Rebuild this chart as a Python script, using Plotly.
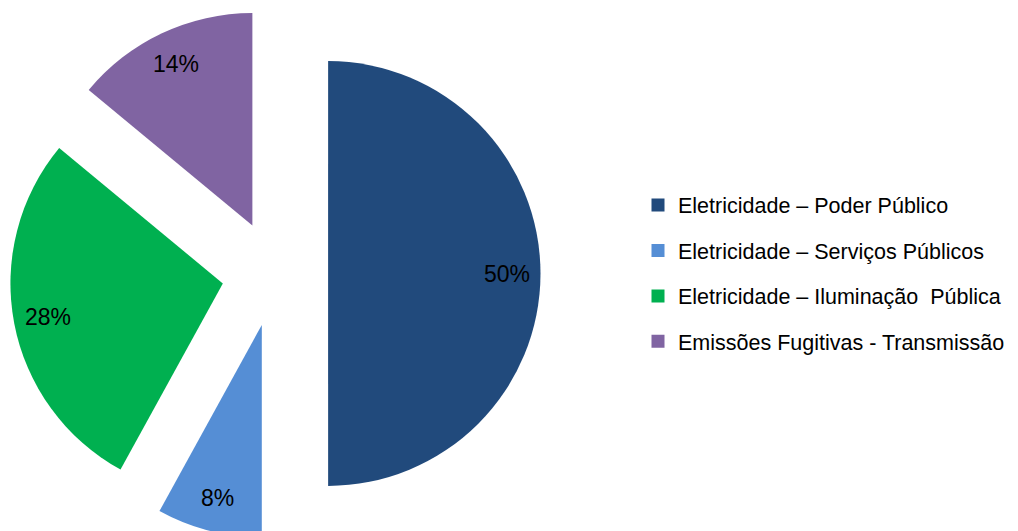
import math
import plotly.graph_objects as go

labels = ["Eletricidade – Poder Público", "Eletricidade – Serviços Públicos",
          "Eletricidade – Iluminação  Pública", "Emissões Fugitivas - Transmissão"]
values = [50, 8, 28, 14]
percent_text = ["50%", "8%", "28%", "14%"]
colors = ["#214A7C", "#558ED5", "#00B050", "#8064A2"]
pulls = [0.25, 0.25, 0.25, 0.25]

W, H = 1018, 531
FONT = "Liberation Sans, Arial, sans-serif"
DOM_X = [0, 534 / W]
DOM_Y = [0, 1]

fig = go.Figure()
fig.add_trace(go.Pie(
    labels=labels, values=values, sort=False, direction="clockwise", rotation=0,
    marker=dict(colors=colors, line=dict(width=0)),
    pull=pulls, textinfo="none",
    domain=dict(x=DOM_X, y=DOM_Y),
    showlegend=False, hoverinfo="label+percent",
))

# pie geometry as plotly computes it (margins are zero)
avail_w = W * (DOM_X[1] - DOM_X[0])
avail_h = H * (DOM_Y[1] - DOM_Y[0])
r = min(avail_w, avail_h) / (2 + 2 * max(pulls))
cx = W * (DOM_X[0] + DOM_X[1]) / 2
cy = H * (1 - DOM_Y[0]) - avail_h / 2
total = sum(values)
cum = 0
for v, p, t in zip(values, pulls, percent_text):
    mid = (cum + v / 2) / total * 2 * math.pi
    cum += v
    dist = (p + 0.84) * r
    px = cx + dist * math.sin(mid)
    py = cy - dist * math.cos(mid)
    fig.add_annotation(x=px / W, y=1 - py / H, xref="paper", yref="paper",
                       xanchor="center", yanchor="middle",
                       text=t, showarrow=False,
                       font=dict(family=FONT, size=23, color="#000000"))

# legend entries
for lab, col in zip(labels, colors):
    fig.add_trace(go.Scatter(
        x=[None], y=[None], mode="markers", name=lab, legendgroup=lab,
        marker=dict(symbol="square", size=13, color=col),
        showlegend=True, hoverinfo="skip",
    ))

fig.update_layout(
    width=W, height=H,
    margin=dict(l=0, r=0, t=0, b=0),
    paper_bgcolor="white", plot_bgcolor="white",
    xaxis=dict(visible=False), yaxis=dict(visible=False),
    legend=dict(x=630 / W, xanchor="left", y=0.5, yanchor="middle",
                font=dict(family=FONT, size=21.5, color="#000000"),
                tracegroupgap=14.5, itemsizing="trace"),
    font=dict(family=FONT),
)
fig.write_html("out.html")
